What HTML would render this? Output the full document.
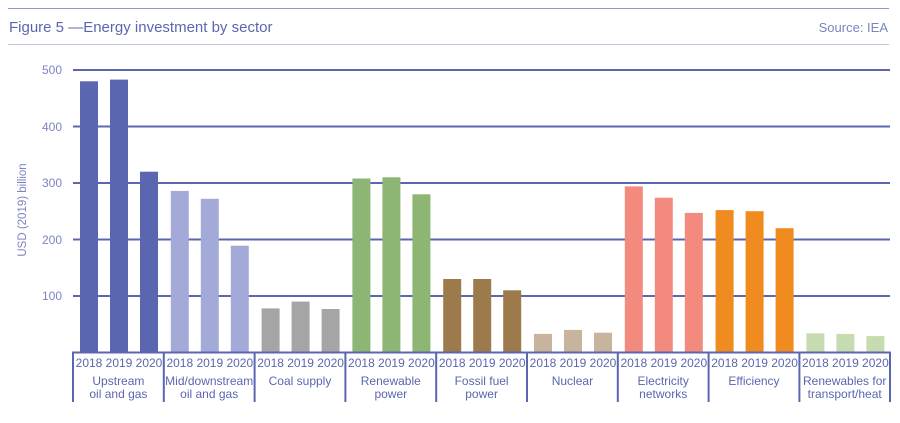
<!DOCTYPE html>
<html><head><style>body{margin:0;background:#fff}svg{display:block}text{font-family:"Liberation Sans",sans-serif}</style></head>
<body>
<svg width="900" height="423" viewBox="0 0 900 423">
<line x1="8" y1="8.5" x2="889" y2="8.5" stroke="#8f96c8" stroke-width="1"/>
<line x1="8" y1="44.5" x2="889" y2="44.5" stroke="#c3c7e3" stroke-width="1"/>
<text x="9" y="32" font-size="15" fill="#5a66b0">Figure 5  —Energy investment by sector</text>
<text x="888" y="32" font-size="13" fill="#7c84c0" text-anchor="end">Source: IEA</text>
<g fill="#7c84c0" font-size="12" text-anchor="end">
<text x="62" y="74">500</text><text x="62" y="131">400</text><text x="62" y="187">300</text><text x="62" y="244">200</text><text x="62" y="300">100</text>
</g>
<text transform="translate(26,210) rotate(-90)" font-size="11.5" fill="#7c84c0" text-anchor="middle">USD (2019) billion</text>
<g stroke="#5a66b0" stroke-width="2">
<line x1="73" y1="70" x2="890" y2="70"/><line x1="73" y1="126.5" x2="890" y2="126.5"/><line x1="73" y1="183" x2="890" y2="183"/><line x1="73" y1="239.5" x2="890" y2="239.5"/><line x1="73" y1="296" x2="890" y2="296"/>
</g>
<g>
<rect x="80" y="81.3" width="18" height="271.2" fill="#5a66b0"/><rect x="110" y="79.6" width="18" height="272.9" fill="#5a66b0"/><rect x="140" y="171.7" width="18" height="180.8" fill="#5a66b0"/>
<rect x="170.8" y="190.9" width="18" height="161.6" fill="#a3aad8"/><rect x="200.8" y="198.8" width="18" height="153.7" fill="#a3aad8"/><rect x="230.8" y="245.7" width="18" height="106.8" fill="#a3aad8"/>
<rect x="261.6" y="308.4" width="18" height="44.1" fill="#a5a5a5"/><rect x="291.6" y="301.6" width="18" height="50.9" fill="#a5a5a5"/><rect x="321.6" y="309" width="18" height="43.5" fill="#a5a5a5"/>
<rect x="352.4" y="178.5" width="18" height="174" fill="#8db573"/><rect x="382.4" y="177.3" width="18" height="175.2" fill="#8db573"/><rect x="412.4" y="194.3" width="18" height="158.2" fill="#8db573"/>
<rect x="443.2" y="279" width="18" height="73.5" fill="#9c7a4c"/><rect x="473.2" y="279" width="18" height="73.5" fill="#9c7a4c"/><rect x="503.2" y="290.3" width="18" height="62.2" fill="#9c7a4c"/>
<rect x="534" y="333.9" width="18" height="18.6" fill="#c8b49c"/><rect x="564" y="329.9" width="18" height="22.6" fill="#c8b49c"/><rect x="594" y="332.7" width="18" height="19.8" fill="#c8b49c"/>
<rect x="624.8" y="186.4" width="18" height="166.1" fill="#f28b7e"/><rect x="654.8" y="197.7" width="18" height="154.8" fill="#f28b7e"/><rect x="684.8" y="212.9" width="18" height="139.6" fill="#f28b7e"/>
<rect x="715.6" y="210.1" width="18" height="142.4" fill="#f08c1f"/><rect x="745.6" y="211.2" width="18" height="141.3" fill="#f08c1f"/><rect x="775.6" y="228.2" width="18" height="124.3" fill="#f08c1f"/>
<rect x="806.4" y="333.3" width="18" height="19.2" fill="#c7dbb0"/><rect x="836.4" y="333.9" width="18" height="18.6" fill="#c7dbb0"/><rect x="866.4" y="336.1" width="18" height="16.4" fill="#c7dbb0"/>
</g>
<line x1="72" y1="352.5" x2="891" y2="352.5" stroke="#5a66b0" stroke-width="2"/>
<g stroke="#5a66b0" stroke-width="2">
<line x1="73" y1="352" x2="73" y2="402"/><line x1="163.8" y1="352" x2="163.8" y2="402"/><line x1="254.6" y1="352" x2="254.6" y2="402"/><line x1="345.4" y1="352" x2="345.4" y2="402"/><line x1="436.2" y1="352" x2="436.2" y2="402"/><line x1="527" y1="352" x2="527" y2="402"/><line x1="617.8" y1="352" x2="617.8" y2="402"/><line x1="708.6" y1="352" x2="708.6" y2="402"/><line x1="799.4" y1="352" x2="799.4" y2="402"/><line x1="890" y1="352" x2="890" y2="402"/>
</g>
<g font-size="12" fill="#5a66b0" text-anchor="middle">
<text x="89" y="367">2018</text><text x="119" y="367">2019</text><text x="149" y="367">2020</text>
<text x="179.8" y="367">2018</text><text x="209.8" y="367">2019</text><text x="239.8" y="367">2020</text>
<text x="270.6" y="367">2018</text><text x="300.6" y="367">2019</text><text x="330.6" y="367">2020</text>
<text x="361.4" y="367">2018</text><text x="391.4" y="367">2019</text><text x="421.4" y="367">2020</text>
<text x="452.2" y="367">2018</text><text x="482.2" y="367">2019</text><text x="512.2" y="367">2020</text>
<text x="543" y="367">2018</text><text x="573" y="367">2019</text><text x="603" y="367">2020</text>
<text x="633.8" y="367">2018</text><text x="663.8" y="367">2019</text><text x="693.8" y="367">2020</text>
<text x="724.6" y="367">2018</text><text x="754.6" y="367">2019</text><text x="784.6" y="367">2020</text>
<text x="815.4" y="367">2018</text><text x="845.4" y="367">2019</text><text x="875.4" y="367">2020</text>
</g>
<g font-size="12" fill="#5a66b0" text-anchor="middle">
<text x="118.4" y="385">Upstream</text><text x="118.4" y="398">oil and gas</text>
<text x="209.2" y="385">Mid/downstream</text><text x="209.2" y="398">oil and gas</text>
<text x="300" y="385">Coal supply</text>
<text x="390.8" y="385">Renewable</text><text x="390.8" y="398">power</text>
<text x="481.6" y="385">Fossil fuel</text><text x="481.6" y="398">power</text>
<text x="572.4" y="385">Nuclear</text>
<text x="663.2" y="385">Electricity</text><text x="663.2" y="398">networks</text>
<text x="754" y="385">Efficiency</text>
<text x="844.7" y="385">Renewables for</text><text x="844.7" y="398">transport/heat</text>
</g>
</svg>
</body></html>
